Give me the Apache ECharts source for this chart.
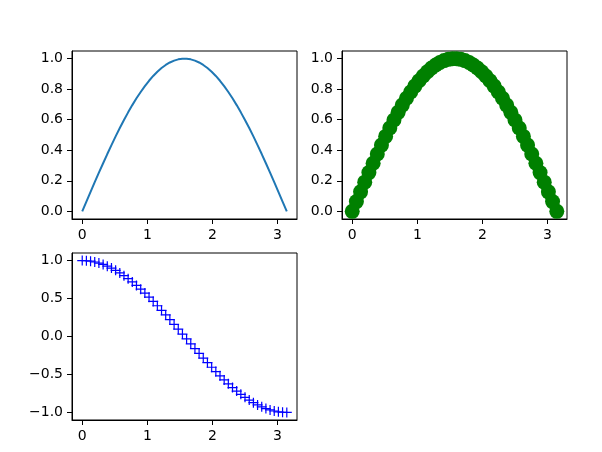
<!DOCTYPE html>
<html>
<head>
<meta charset="utf-8">
<script src="https://cdn.jsdelivr.net/npm/echarts@6/dist/echarts.min.js"></script>
<style>
html,body{margin:0;padding:0;background:#fff;}
#chart{width:602px;height:452px;}
</style>
</head>
<body>
<div id="chart"></div>
<script>
var xs = [0, 0.064, 0.128, 0.192, 0.256, 0.321, 0.385, 0.449, 0.513, 0.577, 0.641, 0.705, 0.769, 0.833, 0.898, 0.962, 1.026, 1.090, 1.154, 1.218, 1.282, 1.346, 1.411, 1.475, 1.539, 1.603, 1.667, 1.731, 1.795, 1.859, 1.923, 1.988, 2.052, 2.116, 2.180, 2.244, 2.308, 2.372, 2.436, 2.500, 2.565, 2.629, 2.693, 2.757, 2.821, 2.885, 2.949, 3.013, 3.077, 3.142];
var sinVals = [0, 0.0641, 0.1279, 0.1912, 0.2537, 0.3151, 0.3753, 0.4339, 0.4907, 0.5455, 0.5981, 0.6482, 0.6957, 0.7403, 0.7818, 0.8202, 0.8551, 0.8866, 0.9144, 0.9385, 0.9587, 0.9749, 0.9872, 0.9954, 0.9995, 0.9995, 0.9954, 0.9872, 0.9749, 0.9587, 0.9385, 0.9144, 0.8866, 0.8551, 0.8202, 0.7818, 0.7403, 0.6957, 0.6482, 0.5981, 0.5455, 0.4907, 0.4339, 0.3753, 0.3151, 0.2537, 0.1912, 0.1279, 0.0641, 0];
var cosVals = [1, 0.9979, 0.9918, 0.9816, 0.9673, 0.9491, 0.9269, 0.9010, 0.8713, 0.8381, 0.8014, 0.7615, 0.7184, 0.6723, 0.6235, 0.5721, 0.5184, 0.4625, 0.4048, 0.3454, 0.2845, 0.2225, 0.1596, 0.0960, 0.0321, -0.0321, -0.0960, -0.1596, -0.2225, -0.2845, -0.3454, -0.4048, -0.4625, -0.5184, -0.5721, -0.6235, -0.6723, -0.7184, -0.7615, -0.8014, -0.8381, -0.8713, -0.9010, -0.9269, -0.9491, -0.9673, -0.9816, -0.9918, -0.9979, -1];
var xTicks = [0, 1, 2, 3];
var yTicksTop = [0, 0.2, 0.4, 0.6, 0.8, 1.0];
var yTicksBottom = [-1, -0.5, 0, 0.5, 1];

function pairs(a, b) { return a.map(function (v, i) { return [v, b[i]]; }); }
var FONT = 'DejaVu Sans';
function fmt(v) { var s = Number(v).toFixed(1); return s.replace('-', '\u2212'); }
var axisLineStyle = { show: true, onZero: false, lineStyle: { color: '#000', width: 1 } };
function xAxis(idx) {
  return {
    type: 'value', gridIndex: idx, min: -0.15708, max: 3.29867,
    axisLine: axisLineStyle,
    splitLine: { show: false },
    axisTick: { show: true, inside: false, length: 5, lineStyle: { color: '#000', width: 1 }, customValues: xTicks },
    axisLabel: { customValues: xTicks, color: '#000', fontFamily: FONT, fontSize: 14, margin: 9, formatter: function (v) { return String(Math.round(v)); } }
  };
}
function yAxis(idx, min, max, ticks) {
  return {
    type: 'value', gridIndex: idx, min: min, max: max,
    axisLine: axisLineStyle,
    splitLine: { show: false },
    axisTick: { show: true, inside: false, length: 5, lineStyle: { color: '#000', width: 1 }, customValues: ticks },
    axisLabel: { customValues: ticks, color: '#000', fontFamily: FONT, fontSize: 14, margin: 9, formatter: fmt }
  };
}
var gridStyle = { show: true, borderColor: '#000', borderWidth: 1, backgroundColor: 'transparent' };
var chart = echarts.init(document.getElementById('chart'), null, { renderer: 'canvas' });
chart.setOption({
  animation: false,
  backgroundColor: '#fff',
  grid: [
    Object.assign({ left: 72, top: 51, width: 225, height: 168 }, gridStyle),
    Object.assign({ left: 342, top: 51, width: 225, height: 168 }, gridStyle),
    Object.assign({ left: 72, top: 253, width: 225, height: 167 }, gridStyle)
  ],
  xAxis: [xAxis(0), xAxis(1), xAxis(2)],
  yAxis: [yAxis(0, -0.05, 1.05, yTicksTop), yAxis(1, -0.05, 1.05, yTicksTop), yAxis(2, -1.1, 1.1, yTicksBottom)],
  series: [
    { type: 'line', xAxisIndex: 0, yAxisIndex: 0, data: pairs(xs, sinVals), showSymbol: false, lineStyle: { color: '#1f77b4', width: 2 } },
    { type: 'scatter', xAxisIndex: 1, yAxisIndex: 1, data: pairs(xs, sinVals), symbol: 'circle', symbolSize: 15, itemStyle: { color: '#008000', opacity: 1 } },
    { type: 'scatter', xAxisIndex: 2, yAxisIndex: 2, data: pairs(xs, cosVals), symbol: 'path://M4.4,0L5.6,0L5.6,4.4L10,4.4L10,5.6L5.6,5.6L5.6,10L4.4,10L4.4,5.6L0,5.6L0,4.4L4.4,4.4Z', symbolSize: 10, itemStyle: { color: '#0000ff', opacity: 1 } }
  ]
});
</script>
</body>
</html>
